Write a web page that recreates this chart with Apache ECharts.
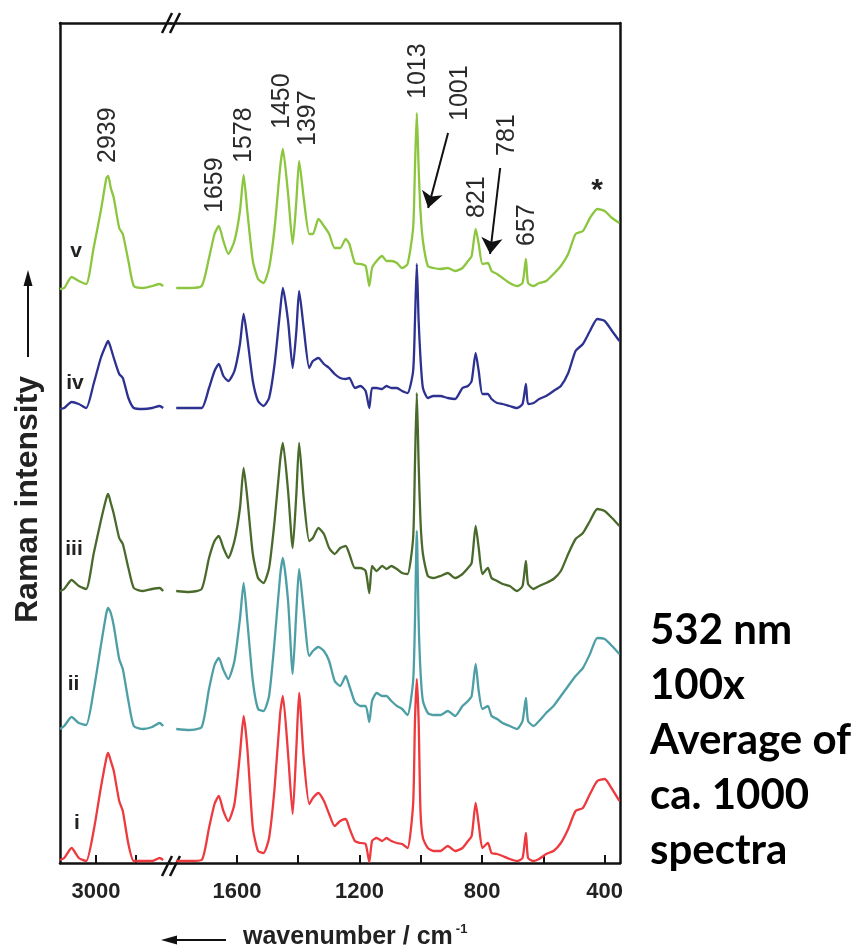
<!DOCTYPE html>
<html>
<head>
<meta charset="utf-8">
<script src="https://cdn.jsdelivr.net/npm/echarts@6/dist/echarts.min.js"></script>
<style>
  html, body { margin: 0; padding: 0; background: #ffffff; }
  #chart { width: 867px; height: 949px; }
</style>
</head>
<body>
<div id="chart"></div>
<script>
// ---- Wavenumber grids (cm-1) for the two windows of the broken axis ----
const wnHigh = [3180, 3159, 3122, 3086, 3049, 3012, 2976, 2948, 2939, 2926, 2911, 2884, 2866, 2838, 2811, 2765, 2719, 2682, 2664];
const wnLow = [1798, 1757, 1715, 1691, 1673, 1659, 1644, 1628, 1608, 1590,
  1578, 1566, 1548, 1531, 1513, 1495, 1477, 1459, 1450, 1433,
  1418, 1406, 1397, 1382, 1364, 1352, 1334, 1316, 1299, 1281,
  1263, 1245, 1233, 1215, 1197, 1180, 1168, 1159, 1144, 1126,
  1112, 1096, 1078, 1061, 1043, 1025, 1019, 1013, 1007, 1001,
  993, 977, 959, 936, 912, 888, 864, 846, 834, 821,
  811, 799, 781, 769, 751, 733, 710, 686, 668, 657,
  650, 632, 614, 591, 567, 543, 519, 495, 471, 448,
  424, 400, 376, 352];

// ---- Raman intensity (a.u., spectra stacked with offsets) ----
const iHigh = [3, 5, 15, 5, 2, 32, 75, 105, 110, 102, 92, 62, 52, 19, 2, 2, 2, 5, 3];
const iLow = [2, 2, 3, 35, 59, 67, 52, 42, 59, 109,
  147, 115, 35, 12, 10, 25, 75, 149, 167, 109,
  49, 115, 170, 105, 59, 65, 70, 62, 49, 37,
  42, 44, 35, 22, 20, 19, 1, 22, 25, 22,
  25, 22, 20, 19, 15, 59, 142, 184, 142, 52,
  25, 15, 12, 12, 17, 12, 15, 22, 27, 60,
  39, 15, 20, 10, 9, 7, 4, 2, 5, 30,
  5, 2, 4, 9, 12, 20, 34, 52, 55, 69,
  82, 84, 74, 62];

const iiHigh = [134, 137, 146, 140, 138, 172, 217, 250, 255, 250, 237, 204, 194, 162, 137, 134, 136, 140, 137];
const iiLow = [134, 133, 136, 174, 198, 205, 193, 184, 202, 244,
  280, 242, 182, 154, 152, 167, 222, 287, 305, 262,
  189, 252, 294, 252, 207, 212, 216, 212, 202, 182,
  177, 187, 177, 161, 157, 157, 141, 162, 170, 167,
  167, 162, 157, 154, 148, 182, 242, 332, 242, 192,
  162, 150, 148, 148, 152, 147, 157, 162, 167, 199,
  172, 154, 157, 147, 144, 140, 137, 134, 142, 165,
  142, 137, 142, 150, 157, 167, 177, 187, 195, 209,
  225, 224, 217, 209];

const iiiHigh = [272, 274, 283, 277, 274, 309, 342, 365, 369, 360, 349, 325, 319, 295, 275, 272, 274, 275, 272];
const iiiLow = [272, 271, 274, 305, 322, 327, 315, 305, 322, 355,
  395, 365, 309, 285, 280, 295, 342, 402, 420, 372,
  315, 369, 420, 365, 322, 325, 335, 329, 315, 309,
  315, 317, 309, 295, 295, 292, 270, 297, 292, 297,
  294, 297, 294, 290, 289, 325, 399, 470, 399, 342,
  309, 287, 285, 287, 290, 285, 289, 295, 300, 337,
  315, 289, 295, 285, 282, 279, 277, 272, 277, 302,
  279, 274, 277, 280, 284, 292, 309, 324, 330, 342,
  354, 352, 345, 337];

const ivHigh = [454, 455, 461, 459, 455, 479, 505, 519, 522, 515, 505, 489, 485, 465, 455, 454, 455, 457, 455];
const ivLow = [455, 455, 455, 475, 492, 499, 487, 482, 492, 519,
  549, 525, 482, 462, 457, 465, 499, 552, 575, 542,
  495, 532, 572, 535, 495, 502, 505, 499, 495, 489,
  485, 484, 485, 475, 477, 472, 455, 475, 475, 474,
  477, 475, 475, 472, 470, 492, 542, 599, 542, 505,
  475, 465, 467, 467, 465, 464, 475, 477, 482, 510,
  492, 469, 469, 464, 460, 459, 457, 455, 459, 479,
  459, 460, 464, 467, 472, 477, 490, 512, 519, 532,
  544, 542, 532, 522];

const vHigh = [574, 575, 586, 582, 579, 615, 652, 685, 687, 675, 665, 635, 629, 602, 577, 575, 577, 579, 577];
const vLow = [575, 575, 577, 605, 629, 637, 622, 609, 622, 652,
  688, 652, 602, 584, 580, 595, 635, 695, 714, 669,
  619, 662, 702, 665, 629, 629, 644, 637, 629, 615,
  615, 624, 619, 600, 599, 597, 577, 595, 602, 607,
  602, 602, 600, 595, 599, 635, 695, 750, 695, 652,
  622, 597, 595, 594, 595, 592, 595, 602, 607, 634,
  619, 599, 600, 592, 589, 585, 580, 577, 580, 604,
  580, 577, 580, 582, 589, 597, 609, 629, 632, 645,
  654, 652, 645, 640];

// ---- Axis ticks ----
const ticksHigh = [3000, 2800];
const labelsHigh = [3000];
const ticksLow = [1600, 1400, 1200, 1000, 800, 600, 400];
const labelsLow = [1600, 1200, 800, 400];

// ---- Spectrum styling ----
const spectra = [
  { tag: 'i',   color: '#ED3A3F', high: iHigh,   low: iLow },
  { tag: 'ii',  color: '#4E9FA5', high: iiHigh,  low: iiLow },
  { tag: 'iii', color: '#4A6A2C', high: iiiHigh, low: iiiLow },
  { tag: 'iv',  color: '#2D3190', high: ivHigh,  low: ivLow },
  { tag: 'v',   color: '#8CC63F', high: vHigh,   low: vLow }
];

// Tag positions in the high-wavenumber window [wn, intensity]
const tagAnchors = { i: [3095, 40], ii: [3112, 179], iii: [3110, 314], iv: [3105, 480], v: [3100, 612] };

// Band assignments (rotated labels, anchored at the text start)
const bandLabels = [
  { text: '2939', win: 0, at: [2937, 700] },
  { text: '1659', win: 1, at: [1671, 650] },
  { text: '1578', win: 1, at: [1575, 700] },
  { text: '1450', win: 1, at: [1453, 734] },
  { text: '1397', win: 1, at: [1369, 717] },
  { text: '1013', win: 1, at: [1009, 764] },
  { text: '1001', win: 1, at: [872, 742] },
  { text: '821',  win: 1, at: [816, 645] },
  { text: '781',  win: 1, at: [719, 707] },
  { text: '657',  win: 1, at: [653, 617] }
];
const starMark = [425, 672];
const bandArrows = [
  [[911, 730], [976, 655]],
  [[741, 695], [774, 609]]
];

const sideNotes = ['532 nm', '100x', 'Average of', 'ca. 1000', 'spectra'];

const FONT = '"Liberation Sans", Arial, Helvetica, sans-serif';
const chart = echarts.init(document.getElementById('chart'), null, { renderer: 'canvas' });

const LINE = { color: '#111', width: 2.5 };

function xAxisCfg(grid, min, max, ticks, labels, pos) {
  const bottom = pos === 'bottom';
  return {
    type: 'value', gridIndex: grid, min: min, max: max, inverse: true, position: pos,
    axisLine: { show: true, onZero: false, lineStyle: LINE },
    axisTick: { show: bottom, inside: true, length: 8, customValues: ticks, lineStyle: { color: '#111', width: 2 } },
    axisLabel: { show: bottom, customValues: labels, margin: 18, color: '#222', fontFamily: FONT, fontWeight: 'bold', fontSize: 22,
      formatter: v => String(v) },
    splitLine: { show: false }
  };
}
function yAxisCfg(grid, pos) {
  return {
    type: 'value', gridIndex: grid, min: 0, max: 840, position: pos,
    axisLine: { show: true, onZero: false, lineStyle: LINE },
    axisTick: { show: false }, axisLabel: { show: false }, splitLine: { show: false }
  };
}

const series = [];
spectra.forEach(s => {
  series.push({
    type: 'line', name: s.tag + '-high', xAxisIndex: 0, yAxisIndex: 0,
    data: wnHigh.map((w, k) => [w, s.high[k]]),
    showSymbol: false, smooth: 0.2, clip: true,
    lineStyle: { color: s.color, width: 2.3 }, silent: true
  });
  series.push({
    type: 'line', name: s.tag + '-low', xAxisIndex: 1, yAxisIndex: 1,
    data: wnLow.map((w, k) => [w, s.low[k]]),
    showSymbol: false, smooth: 0.2, clip: true,
    lineStyle: { color: s.color, width: 2.3 }, silent: true
  });
});
series.push({
  type: 'lines', coordinateSystem: 'cartesian2d', xAxisIndex: 1, yAxisIndex: 1,
  symbol: ['none', 'arrow'], symbolSize: [9, 16], silent: true,
  lineStyle: { color: '#111', width: 2, opacity: 1, curveness: 0 },
  data: bandArrows.map(c => ({ coords: c }))
});

chart.setOption({
  animation: false,
  backgroundColor: '#ffffff',
  grid: [
    { left: 60, top: 23, width: 111, height: 840 },
    { left: 171, top: 23, width: 449, height: 840 }
  ],
  xAxis: [
    xAxisCfg(0, 2625, 3180, ticksHigh, labelsHigh, 'bottom'),
    xAxisCfg(1, 350, 1815, ticksLow, labelsLow, 'bottom'),
    xAxisCfg(0, 2625, 3180, ticksHigh, labelsHigh, 'top'),
    xAxisCfg(1, 350, 1815, ticksLow, labelsLow, 'top')
  ],
  yAxis: [yAxisCfg(0, 'left'), yAxisCfg(1, 'right')],
  series: series
});

// ---- Annotations placed through the axes ----
function toPx(win, pt) {
  return chart.convertToPixel({ xAxisIndex: win, yAxisIndex: win }, pt);
}
const g = [];
bandLabels.forEach(b => {
  const p = toPx(b.win, b.at);
  g.push({ type: 'text', x: p[0], y: p[1], rotation: Math.PI / 2, silent: true,
    style: { text: b.text, font: '25px ' + FONT, fill: '#2a2a2a', align: 'left', verticalAlign: 'middle' } });
});
const sp = toPx(1, starMark);
g.push({ type: 'text', x: sp[0], y: sp[1], silent: true,
  style: { text: '*', font: 'bold 30px ' + FONT, fill: '#222', align: 'center', verticalAlign: 'middle' } });
spectra.forEach(s => {
  const p = toPx(0, tagAnchors[s.tag]);
  g.push({ type: 'text', x: p[0], y: p[1], silent: true,
    style: { text: s.tag, font: 'bold 21px ' + FONT, fill: '#222', align: 'center', verticalAlign: 'middle' } });
});

// axis break marks on the top and bottom frame lines
const bx = toPx(1, [1815, 0])[0];
const yBottom = toPx(1, [1815, 0])[1];
const yTop = toPx(1, [1815, 840])[1];
[yTop, yBottom + 3].forEach(yy => {
  [-4, 4].forEach(dx => {
    g.push({ type: 'line', silent: true,
      shape: { x1: bx + dx - 5, y1: yy + 10, x2: bx + dx + 5, y2: yy - 10 },
      style: { stroke: '#111', lineWidth: 2.5 } });
  });
});

// y axis title with arrow
g.push({ type: 'text', x: 28, y: 623, rotation: Math.PI / 2, silent: true,
  style: { text: 'Raman intensity', font: 'bold 32px ' + FONT, fill: '#222', align: 'left', verticalAlign: 'middle' } });
g.push({ type: 'line', silent: true, shape: { x1: 28, y1: 357, x2: 28, y2: 282 }, style: { stroke: '#111', lineWidth: 2 } });
g.push({ type: 'polygon', silent: true, shape: { points: [[28, 270], [23.5, 286], [32.5, 286]] }, style: { fill: '#111' } });

// x axis title with arrow
g.push({ type: 'line', silent: true, shape: { x1: 226, y1: 940, x2: 175, y2: 940 }, style: { stroke: '#111', lineWidth: 2 } });
g.push({ type: 'polygon', silent: true, shape: { points: [[161, 940], [177, 935.5], [177, 944.5]] }, style: { fill: '#111' } });
g.push({ type: 'text', x: 243, y: 937, silent: true,
  style: {
    text: '{a|wavenumber / cm}{s|-1}', align: 'left', verticalAlign: 'middle',
    rich: {
      a: { font: 'bold 25px ' + FONT, fill: '#222' },
      s: { font: 'bold 13px ' + FONT, fill: '#222', verticalAlign: 'top', padding: [0, 0, 16, 3] }
    }
  } });

// acquisition notes
sideNotes.forEach((t, k) => {
  g.push({ type: 'text', x: 650, y: 630 + k * 55, silent: true,
    style: { text: t, font: 'bold 42px Lato, "Open Sans", sans-serif', fill: '#000', align: 'left', verticalAlign: 'middle' } });
});

chart.setOption({ graphic: g });
</script>
</body>
</html>
